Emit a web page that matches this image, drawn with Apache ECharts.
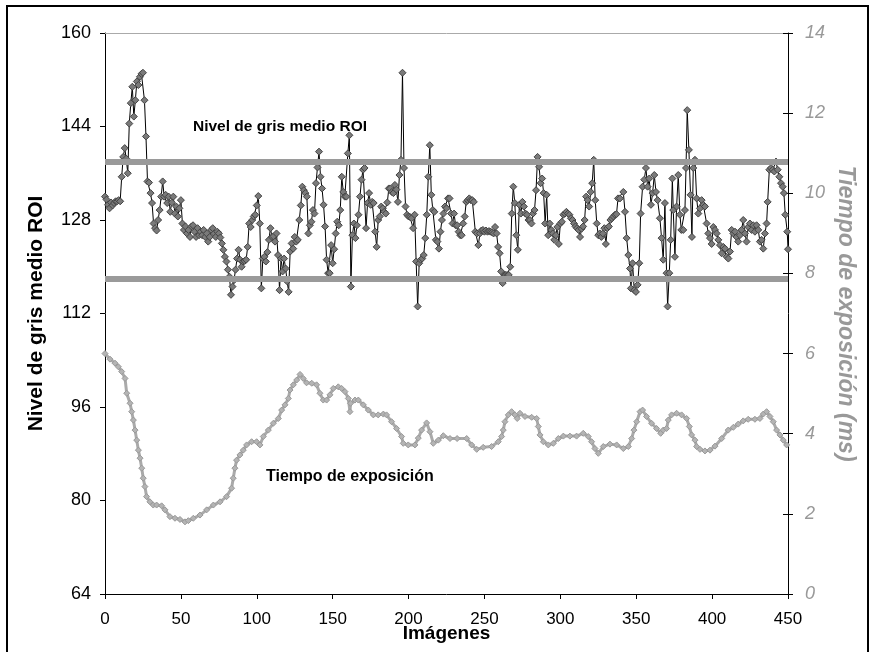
<!DOCTYPE html>
<html lang="es">
<head>
    <meta charset="utf-8">
    <title>Nivel de gris y tiempo de exposición</title>
    <script src="https://cdn.jsdelivr.net/npm/echarts@6/dist/echarts.min.js"></script>
    <style>
        body { margin: 0; background: #fff; }
        #chart1 { width: 874px; height: 652px; }
    </style>
</head>
<body>
<div id="chart1"></div>
<script type="text/javascript">
    // datos: [imagen, valor]
    var nivelGris = [
        [0,132.0],[1,131.5],[2,130.6],[3,130.0],[4,131.0],[5,130.5],[6,130.9],[7,131.2],[8,131.2],[9,131.4],[10,131.2],
        [11,135.4],[12,138.8],[13,140.3],[14,138.5],[15,136.0],[16,144.5],[17,148.0],[18,150.8],[19,145.7],[20,148.5],
        [21,151.7],[22,151.1],[23,152.5],[24,153.0],[25,153.2],[26,148.5],[27,142.3],[28,134.6],[29,134.4],[30,132.6],
        [31,130.9],[32,127.4],[33,126.6],[34,126.2],[35,128.0],[36,129.7],[37,132.0],[38,134.6],[39,132.0],[40,132.3],
        [41,130.9],[42,132.0],[43,129.4],[44,131.0],[45,132.0],[46,129.1],[47,130.3],[48,128.6],[49,130.0],[50,131.4],
        [51,127.4],[52,126.3],[53,126.9],[54,125.7],[55,126.3],[56,125.1],[57,126.9],[58,127.1],[59,126.0],[60,125.1],
        [61,126.6],[62,125.4],[63,126.0],[64,125.4],[65,126.3],[66,125.1],[67,125.7],[68,124.3],[69,125.1],[70,126.3],
        [71,126.6],[72,125.7],[73,125.1],[74,126.0],[75,125.7],[76,125.0],[77,124.0],[78,122.9],[79,121.7],[80,120.9],
        [81,119.5],[82,118.3],[83,115.2],[84,116.6],[85,117.7],[86,119.5],[87,121.4],[88,122.9],[89,121.2],[90,120.0],
        [91,120.9],[92,121.0],[93,121.2],[94,123.4],[95,127.4],[96,126.8],[97,128.0],[98,128.6],[99,128.9],[100,130.5],
        [101,132.1],[102,127.4],[103,116.3],[104,121.4],[105,121.7],[106,120.9],[107,122.5],[108,124.6],[109,126.6],[110,125.1],
        [111,125.2],[112,124.3],[113,125.7],[114,122.0],[115,116.0],[116,121.4],[117,119.2],[118,121.4],[119,119.7],[120,117.5],
        [121,115.7],[122,122.6],[123,124.0],[124,123.1],[125,125.1],[126,124.3],[127,124.6],[128,128.0],[129,130.5],[130,133.7],
        [131,133.1],[132,132.6],[133,132.0],[134,125.7],[135,127.1],[136,127.7],[137,129.7],[138,129.1],[139,134.3],[140,137.0],
        [141,139.7],[142,135.4],[143,133.4],[144,130.6],[145,126.9],[146,121.2],[147,118.9],[148,118.9],[149,123.7],[150,120.6],
        [151,123.0],[152,125.7],[153,127.7],[154,127.1],[155,129.7],[156,135.4],[157,132.8],[158,132.0],[159,132.0],[160,139.4],
        [161,142.5],[162,116.6],[163,125.4],[164,127.4],[165,124.9],[166,127.1],[167,128.9],[168,132.0],[169,134.9],[170,136.6],
        [171,136.9],[172,126.6],[173,130.9],[174,132.6],[175,130.6],[176,131.1],[177,130.9],[178,126.0],[179,123.4],[180,128.0],
        [181,128.6],[182,130.3],[183,130.0],[184,129.4],[185,129.1],[186,131.0],[187,133.4],[188,133.4],[189,132.8],[190,132.6],
        [191,134.0],[192,133.2],[193,131.1],[194,135.7],[195,138.3],[196,153.2],[197,136.9],[198,130.3],[199,128.9],[200,128.6],
        [201,128.5],[202,128.3],[203,126.6],[204,128.9],[205,120.9],[206,113.2],[207,120.6],[208,121.2],[209,121.4],[210,122.0],
        [211,124.9],[212,128.9],[213,135.4],[214,140.8],[215,132.3],[216,129.7],[217,129.4],[218,124.6],[219,124.3],[220,123.1],
        [221,126.0],[222,128.0],[223,129.1],[224,130.3],[225,130.0],[226,131.7],[227,131.7],[228,129.1],[229,127.4],[230,129.1],
        [231,127.1],[232,127.1],[233,126.0],[234,125.4],[235,125.4],[236,127.4],[237,128.6],[238,131.1],[239,131.4],[240,131.7],
        [241,131.4],[242,131.4],[243,131.1],[244,126.0],[245,125.7],[246,123.7],[247,125.7],[248,126.2],[249,126.3],[250,126.0],
        [251,126.2],[252,126.0],[253,126.1],[254,126.0],[255,125.9],[256,125.7],[257,126.8],[258,125.7],[259,123.4],[260,122.3],
        [261,119.2],[262,117.2],[263,118.6],[264,118.6],[265,118.6],[266,118.6],[267,120.0],[268,129.1],[269,133.7],[270,130.9],
        [271,125.4],[272,122.9],[273,130.6],[274,129.1],[275,131.1],[276,130.3],[277,129.1],[278,128.9],[279,128.0],[280,128.0],
        [281,127.4],[282,129.1],[283,129.7],[284,133.1],[285,138.8],[286,137.1],[287,134.3],[288,135.1],[289,132.6],[290,127.4],
        [291,132.3],[292,125.4],[293,127.4],[294,126.3],[295,125.7],[296,124.6],[297,125.4],[298,126.8],[299,123.9],[300,127.4],
        [301,127.7],[302,128.9],[303,129.1],[304,129.4],[305,129.1],[306,128.9],[307,128.3],[308,128.0],[309,127.4],[310,126.9],
        [311,126.6],[312,126.3],[313,125.1],[314,126.5],[315,126.9],[316,128.0],[317,132.0],[318,131.4],[319,130.3],[320,132.8],
        [321,134.3],[322,138.3],[323,131.4],[324,127.4],[325,125.4],[326,125.7],[327,125.1],[328,125.7],[329,126.6],[330,123.9],
        [331,126.6],[332,126.9],[333,128.0],[334,128.3],[335,128.6],[336,128.9],[337,129.0],[338,131.7],
        [339.3,131.7],[341.5,132.8],[342.6,129.4],[343.7,124.9],[344.8,122.0],[345.9,119.7],[346.5,116.3],[347.6,120.6],
        [348.7,116.0],[349.8,115.7],[350.9,116.9],[352.0,120.6],[352.9,129.1],[354.2,133.7],[355.3,134.9],[356.4,136.9],
        [357.5,133.7],[358.6,135.1],[359.7,130.6],[360.8,132.6],[361.9,135.7],[363.0,132.8],[364.1,131.4],[365.6,128.3],
        [366.7,124.9],[367.8,121.2],[368.9,130.9],[370.0,118.9],[370.7,113.2],[371.8,118.9],[372.7,124.6],[373.8,135.1],
        [374.4,129.7],[375.5,121.7],[376.6,130.3],[377.7,135.7],[378.8,128.9],[379.7,126.3],[381.0,126.3],[382.1,129.7],
        [382.8,136.9],[383.6,146.8],[384.7,140.0],[385.8,132.3],[386.7,125.1],[387.6,136.9],[388.7,138.3],[389.8,131.7],
        [390.9,129.1],[392.0,130.0],[393.1,131.4],[394.2,130.6],[395.3,130.3],[396.4,127.4],[397.5,125.7],[398.6,124.9],
        [399.7,123.9],[400.8,126.8],[401.9,126.3],[403.0,125.7],[404.1,124.6],[405.2,123.7],[406.3,122.3],[407.4,123.4],
        [408.5,123.1],[409.6,121.7],[410.7,121.4],[411.8,122.6],[412.9,126.3],[414.0,125.7],[415.1,126.0],[416.1,125.1],
        [417.2,124.3],[418.3,125.4],[419.4,126.3],[420.5,128.0],[421.6,125.7],[422.7,124.3],[423.8,126.8],[424.9,127.4],
        [426.0,126.3],[427.1,127.1],[428.2,126.0],[429.3,127.1],[430.4,126.3],[431.5,124.3],[432.6,124.6],[433.7,123.1],
        [434.8,125.7],[435.9,127.4],[436.6,131.1],[437.7,136.6],[438.8,136.9],[439.9,136.6],[441.0,136.3],[442.1,138.0],
        [443.2,136.6],[444.3,135.4],[445.4,134.3],[446.5,133.7],[447.3,132.6],[448.2,128.9],[449.5,126.0],[450,123.0]
    ];

    var tiempoExp = [
        [0,6.0],[3.3,5.86],[6.6,5.76],[8.8,5.67],[11,5.55],[13.2,5.38],[14.3,5.01],[16.5,4.76],[17.6,4.55],[18.7,4.34],
        [19.8,4.09],[20.9,3.84],[22,3.59],[23.1,3.39],[24.2,3.14],[25.2,2.89],[26.3,2.68],[27.4,2.43],[29.6,2.30],[31.8,2.22],
        [34,2.22],[37.3,2.20],[39.5,2.10],[42.8,1.93],[46.1,1.89],[49.4,1.86],[52.7,1.80],[54.9,1.83],[58.2,1.89],[62.6,1.97],
        [67,2.10],[71.4,2.22],[75.8,2.30],[80.1,2.43],[83.4,2.64],[84.5,2.89],[85.6,3.14],[86.7,3.34],[88.9,3.47],[91.1,3.59],
        [93.3,3.72],[96.6,3.80],[99.9,3.80],[102.1,3.72],[104.3,3.93],[107.6,4.09],[110.9,4.26],[114.2,4.38],[116.4,4.59],[118.6,4.72],
        [120.8,4.88],[121.9,5.09],[124.1,5.22],[126.3,5.34],[128.5,5.48],[130.6,5.38],[132.8,5.27],[136.2,5.26],[139.4,5.22],[141.6,5.01],
        [143.8,4.84],[146,4.84],[148.2,4.97],[150.4,5.13],[153.7,5.17],[155.9,5.13],[158.1,5.05],[160.3,4.88],[161.4,4.55],[161.8,4.76],
        [164.7,4.84],[166.9,4.84],[170.2,4.72],[173.5,4.59],[176.8,4.47],[180,4.47],[183.4,4.49],[185.5,4.47],[188.8,4.30],[192.1,4.13],
        [195.4,3.93],[196.5,3.76],[199.8,3.72],[204.2,3.72],[206.4,3.89],[208.6,4.09],[211.9,4.27],[214.1,4.05],[216.3,3.76],[219.6,3.84],
        [222.9,3.95],[227.3,3.88],[232,3.88],[238.3,3.88],[241.6,3.72],[244.9,3.61],[249.2,3.66],[254.7,3.68],[259.1,3.80],[261.3,3.93],
        [262.4,4.09],[263.5,4.30],[265.7,4.47],[267.9,4.55],[270.1,4.47],[271.6,4.38],[273.4,4.51],[276.7,4.43],[281.1,4.41],[284.4,4.38],
        [285.5,4.18],[286.6,3.97],[288.8,3.80],[292.1,3.72],[295.4,3.76],[298.7,3.88],[302,3.94],[306.3,3.94],[310.7,3.94],[315.1,4.01],
        [318.4,3.93],[320.6,3.80],[322.8,3.63],[325,3.51],[328.3,3.68],[332.7,3.74],[337.1,3.72],[341.5,3.63],[344.8,3.68],[347,3.88],
        [348.5,4.09],[350.3,4.30],[352.5,4.55],[354.2,4.59],[356.8,4.43],[360.1,4.26],[363.4,4.13],[366.1,4.01],[367.8,4.09],[370,4.13],
        [371.1,4.34],[373.3,4.47],[376.6,4.51],[379.9,4.47],[383.2,4.38],[385,4.18],[386.5,3.97],[388.7,3.84],[389.8,3.68],[392,3.61],
        [395.3,3.57],[398.6,3.59],[401.9,3.69],[406.3,3.88],[410.6,4.09],[414,4.16],[417.2,4.24],[420.5,4.32],[423.8,4.36],[428.2,4.36],
        [431.5,4.38],[433.7,4.49],[435.9,4.55],[438.1,4.43],[440.3,4.30],[442.5,4.09],[444.7,3.97],[446.9,3.84],[449.1,3.72]
    ];

    // limites horizontales (eje izquierdo)
    var limites = [138, 118];

    var fuente = 'Liberation Sans, Arial, sans-serif';

    var myChart = echarts.init(document.getElementById("chart1"));
    myChart.setOption({
        animation: false,
        backgroundColor: '#fff',
        grid: { left: 105, right: 86, top: 33, bottom: 58, outerBoundsMode: 'none' },
        xAxis: [{
            type: 'value', min: 0, max: 450, interval: 50,
            name: 'Imágenes', nameLocation: 'middle', nameGap: 30, nameMoveOverlap: false,
            nameTextStyle: { fontFamily: fuente, fontSize: 19, fontWeight: 'bold', color: '#000' },
            axisLine: { onZero: false, lineStyle: { color: '#000', width: 1 } },
            axisTick: { length: 5, lineStyle: { color: '#000' } },
            axisLabel: { fontFamily: fuente, fontSize: 17, color: '#000', margin: 17 },
            splitLine: { show: false }
        }, {
            type: 'value', position: 'top', min: 0, max: 450,
            axisLine: { onZero: false, lineStyle: { color: '#aaa', width: 1 } },
            axisTick: { show: false }, axisLabel: { show: false }, splitLine: { show: false }
        }],
        yAxis: [{
            type: 'value', min: 64, max: 160, interval: 16, position: 'left',
            name: 'Nivel de gris medio ROI', nameLocation: 'middle', nameGap: 58, nameMoveOverlap: false,
            nameTextStyle: { fontFamily: fuente, fontSize: 21, fontWeight: 'bold', color: '#000' },
            axisLine: { show: true, onZero: false, lineStyle: { color: '#000', width: 1 } },
            axisTick: { show: true, length: 5, lineStyle: { color: '#000' } },
            axisLabel: { fontFamily: fuente, fontSize: 18, color: '#000', margin: 14 },
            splitLine: { show: false }
        }, {
            type: 'value', min: 0, max: 14, interval: 2, position: 'right',
            name: 'Tiempo de exposición (ms)', nameLocation: 'middle', nameGap: 46, nameRotate: -90, nameMoveOverlap: false,
            nameTextStyle: { fontFamily: fuente, fontSize: 23, fontWeight: 'bold', fontStyle: 'italic', color: '#999' },
            axisLine: { show: true, onZero: false, lineStyle: { color: '#000', width: 1 } },
            axisTick: { show: true, length: 5, lineStyle: { color: '#000' } },
            axisLabel: { fontFamily: fuente, fontSize: 18, fontStyle: 'italic', color: '#999', margin: 17 },
            splitLine: { show: false }
        }, {
            // marcas interiores del eje derecho (cruzadas)
            type: 'value', min: 0, max: 14, interval: 2, position: 'right',
            axisLine: { show: false, onZero: false },
            axisTick: { show: true, inside: true, length: 5, lineStyle: { color: '#000' } },
            axisLabel: { show: false }, splitLine: { show: false }
        }],
        graphic: [
            { type: 'rect', shape: { x: 7, y: 6, width: 861, height: 660 }, style: { fill: 'none', stroke: '#000', lineWidth: 2 }, silent: true },
            { type: 'text', left: 193, top: 119, style: { text: 'Nivel de gris medio ROI', fontFamily: fuente, fontSize: 15.5, fontWeight: 'bold', fill: '#000' } },
            { type: 'text', left: 266, top: 469, style: { text: 'Tiempo de exposición', fontFamily: fuente, fontSize: 16, fontWeight: 'bold', fill: '#000' } }
        ],
        series: [
            {
                name: 'Límites', type: 'line', data: [], yAxisIndex: 0, z: 1,
                markLine: {
                    silent: true, symbol: 'none', label: { show: false },
                    lineStyle: { color: '#9a9a9a', width: 6, type: 'solid' },
                    data: limites.map(function (v) { return { yAxis: v }; })
                }
            },
            {
                name: 'Tiempo de exposición', type: 'line', yAxisIndex: 1, data: tiempoExp, z: 2,
                symbol: 'diamond', symbolSize: 6,
                lineStyle: { color: '#aaa', width: 3 },
                itemStyle: { color: '#b4b4b4', borderColor: '#999', borderWidth: 1 }
            },
            {
                name: 'Nivel de gris medio ROI', type: 'line', yAxisIndex: 0, data: nivelGris, z: 3,
                symbol: 'diamond', symbolSize: 7,
                lineStyle: { color: '#000', width: 1 },
                itemStyle: { color: '#7a7a7a', borderColor: '#444', borderWidth: 1 }
            }
        ]
    });
</script>
</body>
</html>
